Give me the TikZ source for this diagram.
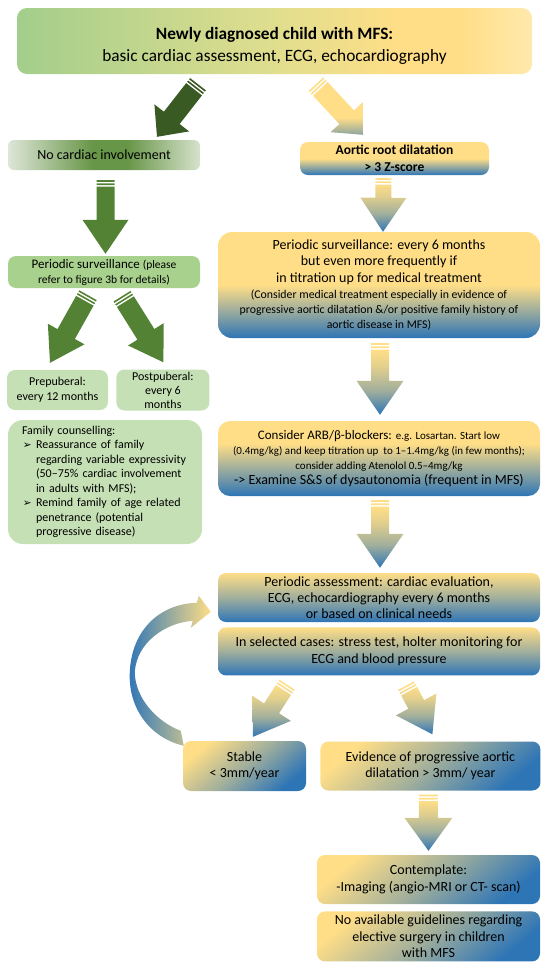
\documentclass[tikz,border=0pt]{standalone}
\usepackage{fontspec}
\setmainfont{Carlito}
\newfontfamily\dingfont{DejaVu Sans}
\usetikzlibrary{positioning,calc,shadings}
\definecolor{mfsYellow}{RGB}{255,222,135}
\definecolor{mfsYellowLight}{RGB}{255,233,172}
\definecolor{mfsBlue}{RGB}{46,117,182}
\definecolor{mfsTopGreen}{RGB}{163,206,140}
\definecolor{mfsTopMid}{RGB}{224,222,142}
\definecolor{mfsGreenLight}{RGB}{197,224,180}
\definecolor{mfsGreen}{RGB}{169,209,142}
\definecolor{mfsGreenDark}{RGB}{84,130,53}
\definecolor{mfsGreenDeep}{RGB}{58,90,35}
\definecolor{mfsNcLeft}{RGB}{222,230,216}
\definecolor{mfsNcMid}{RGB}{104,150,72}
\definecolor{mfsNcRight}{RGB}{214,226,204}
\pgfdeclarehorizontalshading{mfsTop}{100bp}{color(0bp)=(mfsTopGreen); color(25bp)=(mfsTopGreen); color(50bp)=(mfsTopMid); color(62bp)=(mfsYellow); color(68bp)=(mfsYellow); color(75bp)=(mfsYellowLight); color(100bp)=(mfsYellowLight)}
\pgfdeclarehorizontalshading{mfsNoCard}{100bp}{color(0bp)=(mfsNcLeft); color(25bp)=(mfsNcLeft); color(47bp)=(mfsNcMid); color(56bp)=(mfsNcMid); color(75bp)=(mfsNcRight); color(100bp)=(mfsNcRight)}
\pgfdeclareverticalshading{mfsYB}{100bp}{color(0bp)=(mfsBlue); color(25bp)=(mfsBlue); color(36bp)=(mfsYellow!45!mfsBlue); color(50bp)=(mfsYellow); color(100bp)=(mfsYellow)}
\pgfdeclareverticalshading{mfsYBmid}{100bp}{color(0bp)=(mfsBlue); color(25bp)=(mfsBlue); color(42bp)=(mfsYellow!50!mfsBlue); color(60bp)=(mfsYellow); color(100bp)=(mfsYellow)}
\pgfdeclareverticalshading{mfsYArrow}{100bp}{color(0bp)=(mfsBlue!55!mfsYellow); color(25bp)=(mfsBlue!55!mfsYellow); color(40bp)=(mfsYellow); color(100bp)=(mfsYellow)}
\pgfdeclareverticalshading{mfsYDown}{100bp}{color(0bp)=(mfsBlue); color(25bp)=(mfsBlue); color(42bp)=(mfsYellow!55!mfsBlue); color(58bp)=(mfsYellow!85!mfsBlue); color(70bp)=(mfsYellow); color(100bp)=(mfsYellow)}
\newcommand\mfsSmall{\fontsize{11}{13}\selectfont}
\newcommand\mfsTiny{\fontsize{11.8}{14}\selectfont}
\newcommand\fcbul{\makebox[14pt][l]{\hspace{1pt}{\dingfont\fontsize{10.5}{10}\selectfont ➢}}}
\newcommand\fcind{\hspace*{14pt}}
% block arrow with two stripes at the tail: [style]{tail}{tip}{half shaft}{half head}{head length}
\newcommand\stripedarrow[6][]{%
  \coordinate (sa-t) at #2;
  \coordinate (sa-h) at #3;
  \coordinate (sa-b) at ($(sa-h)!#6!(sa-t)$);
  \coordinate (sa-1) at ($(sa-t)!1.6pt!(sa-h)$);
  \coordinate (sa-2) at ($(sa-t)!3.2pt!(sa-h)$);
  \coordinate (sa-3) at ($(sa-t)!4.8pt!(sa-h)$);
  \coordinate (sa-4) at ($(sa-t)!6.4pt!(sa-h)$);
  \path[#1] ($(sa-t)!#4!90:(sa-h)$) -- ($(sa-1)!#4!90:(sa-h)$) -- ($(sa-1)!#4!-90:(sa-h)$) -- ($(sa-t)!#4!-90:(sa-h)$) -- cycle
    ($(sa-2)!#4!90:(sa-h)$) -- ($(sa-3)!#4!90:(sa-h)$) -- ($(sa-3)!#4!-90:(sa-h)$) -- ($(sa-2)!#4!-90:(sa-h)$) -- cycle
    ($(sa-4)!#4!90:(sa-h)$) -- ($(sa-b)!#4!90:(sa-h)$) -- ($(sa-b)!#5!90:(sa-h)$) -- (sa-h)
    -- ($(sa-b)!#5!-90:(sa-h)$) -- ($(sa-b)!#4!-90:(sa-h)$) -- ($(sa-4)!#4!-90:(sa-h)$) -- cycle;
}
\tikzset{
	box/.style={
		rounded corners=8pt,
		align=center,
		inner sep=1.5pt,
		font=\fontsize{14}{16.5}\selectfont,
	},
	greenbox/.style={box, fill=mfsGreen},
	palebox/.style={box, fill=mfsGreenLight, font=\fontsize{12}{14.5}\selectfont},
	yelbox/.style={box, shading=mfsYB},
	midbox/.style={box, shading=mfsYBmid},
	evenbox/.style={box, top color=mfsYellow, bottom color=mfsBlue, middle color=mfsYellow!55!mfsBlue},
	diagbox/.style={box, top color=mfsYellow, bottom color=mfsBlue, middle color=mfsYellow!55!mfsBlue, shading angle=40},
	greenflow/.style={fill=mfsGreenDark},
	yelflow/.style={shading=mfsYDown},
}
\begin{document}
\begin{tikzpicture}[
			x=1pt, y=-1pt,
			node distance=5pt and 8pt
			]
			\useasboundingbox (0,0) rectangle (550,970);
			% --- Top ---
			\node[box, shading=mfsTop, rounded corners=10pt, minimum width=515pt, minimum height=66pt,
			  font=\fontsize{17.3}{22}\selectfont] (top) at (274.5,41)
			  {\rule{0pt}{22pt}\textbf{Newly diagnosed child with MFS:}\\basic cardiac assessment, ECG, echocardiography};
			
			% --- Left column ---
			\node[box, shading=mfsNoCard, rounded corners=6pt, minimum width=192pt, minimum height=30pt] (nocard) at (104,155) {No cardiac involvement};
			\node[greenbox, minimum width=192pt, minimum height=32pt, font=\fontsize{13}{15}\selectfont] (psurvL) at (104,272)
			  {Periodic surveillance {\fontsize{11.5}{14}\selectfont (please}\\\fontsize{11.5}{14}\selectfont refer to figure 3b for details)};
			\node[palebox, minimum width=101pt, minimum height=40pt] (prepub) at (57.5,390) {Prepuberal:\\every 12 months};
			\node[palebox, minimum width=93pt, minimum height=41pt, font=\fontsize{12}{14}\selectfont] (postpub) [right=of prepub] {Postpuberal:\\every 6\\months};
			\node[palebox, rounded corners=15pt, align=left, text width=166pt, inner xsep=14pt, minimum height=124pt] (family) at (105,482)
			  {Family counselling:\\
			   \fcbul Reassurance of family\\
			   \fcind regarding variable expressivity\\
			   \fcind (50–75\% cardiac involvement\\
			   \fcind in adults with MFS);\\
			   \fcbul Remind family of age related\\
			   \fcind penetrance (potential\\
			   \fcind progressive disease)};
			
			% --- Right column ---
			\node[yelbox, minimum width=189pt, minimum height=33pt, font=\bfseries\fontsize{13.5}{17}\selectfont] (aortic) at (394.5,158.5) {Aortic root dilatation\\> 3 Z-score};
			\node[yelbox, rounded corners=14pt, minimum width=322pt, minimum height=106pt] (psurvR) at (379,285)
			  {Periodic surveillance: every 6 months\\
			   but even more frequently if\\
			   in titration up for medical treatment\\
			   \mfsTiny (Consider medical treatment especially in evidence of\\[-2pt]
			   \mfsTiny progressive aortic dilatation \&/or positive family history of\\[-1pt]
			   \mfsTiny aortic disease in MFS)};
			\node[midbox, rounded corners=12pt, minimum width=322pt, minimum height=75pt, font=\fontsize{13}{15}\selectfont] (arb) at (379,458.5)
			  {Consider ARB/β-blockers: {\mfsSmall e.g. Losartan. Start low}\\
			   \mfsSmall (0.4mg/kg) and keep titration up~ to 1–1.4mg/kg (in few months);\\
			   \mfsSmall consider adding Atenolol 0.5–4mg/kg\\
			   \fontsize{14}{15}\selectfont -> Examine S\&S of dysautonomia (frequent in MFS)};
			\node[evenbox, minimum width=322pt, minimum height=49pt, font=\fontsize{14}{16}\selectfont] (passess) at (379,597.5)
			  {Periodic assessment: cardiac evaluation,\\ECG, echocardiography every 6 months\\or based on clinical needs};
			\node[evenbox, minimum width=322pt, minimum height=48pt] (selected) [below=of passess]
			  {In selected cases: stress test, holter monitoring for\\ECG and blood pressure};
			\node[diagbox, minimum width=123pt, minimum height=50pt] (stable) at (244.5,766) {Stable\\< 3mm/year};
			\node[diagbox, minimum width=220pt, minimum height=49pt] (evidence) [right=14pt of stable] {Evidence of progressive aortic\\dilatation > 3mm/ year};
			\node[diagbox, minimum width=223pt, minimum height=49pt] (contemplate) at (428.5,879.5) {Contemplate:\\-Imaging (angio-MRI or CT- scan)};
			\node[diagbox, minimum width=223pt, minimum height=50pt] (noguide) [below=7pt of contemplate] {No available guidelines regarding\\elective surgery in children\\with MFS};
			
			% --- Block arrows ---
			\stripedarrow[fill=mfsGreenDeep]{($(top.south)+(-76.5,10)$)}{($(nocard.north)+(53,-3)$)}{10pt}{22pt}{24pt}
			\stripedarrow[shading=mfsYArrow]{($(top.south)+(41.5,10)$)}{($(aortic.north)+(-31.5,-7)$)}{10pt}{22pt}{24pt}
			\stripedarrow[greenflow]{($(nocard.south)+(1.5,10)$)}{($(psurvL.north)+(1.5,-2)$)}{9pt}{23pt}{34pt}
			\stripedarrow[greenflow]{($(psurvL.south)+(-16,7)$)}{($(prepub.north)+(-7.5,-7)$)}{10pt}{21pt}{33pt}
			\stripedarrow[greenflow]{($(psurvL.south)+(18,8)$)}{($(postpub.north)+(0.5,-7)$)}{10pt}{21pt}{33pt}
			\stripedarrow[yelflow]{($(aortic.south)+(-11,3)$)}{($(psurvR.north)+(4,0)$)}{8pt}{23pt}{34pt}
			\stripedarrow[yelflow]{($(psurvR.south)+(1,5)$)}{($(arb.north)+(1,-6)$)}{9pt}{23.5pt}{34pt}
			\stripedarrow[yelflow]{($(arb.south)+(1,4)$)}{($(passess.north)+(1,-5)$)}{9pt}{23.5pt}{34pt}
			\stripedarrow[yelflow]{($(selected.south)+(-92,9)$)}{($(stable.north)+(8.5,-4)$)}{9pt}{23pt}{34pt}
			\stripedarrow[yelflow]{($(selected.south)+(27,10)$)}{($(evidence.north)+(2,-7)$)}{9pt}{23pt}{34pt}
			\stripedarrow[yelflow]{($(evidence.south)+(-2,4)$)}{($(contemplate.north)+(0,-4)$)}{9.5pt}{24pt}{33pt}
			
			% --- Loop back from stable to periodic assessment ---
			\begin{scope}[shift={(stable.north west)}]
			\path[left color=mfsBlue, right color=mfsYellow] (1,5) .. controls (-33,-3) and (-55,-33) .. (-53,-69)
			  .. controls (-51,-111) and (-23,-137) .. (14,-138) -- (16,-145) -- (28,-129) -- (8,-113) -- (10,-120)
			  .. controls (-18,-118) and (-46,-98) .. (-48,-69) .. controls (-48,-43) and (-26,-19) .. (-2,-10) -- cycle;
			\end{scope}
		\end{tikzpicture}
\end{document}
